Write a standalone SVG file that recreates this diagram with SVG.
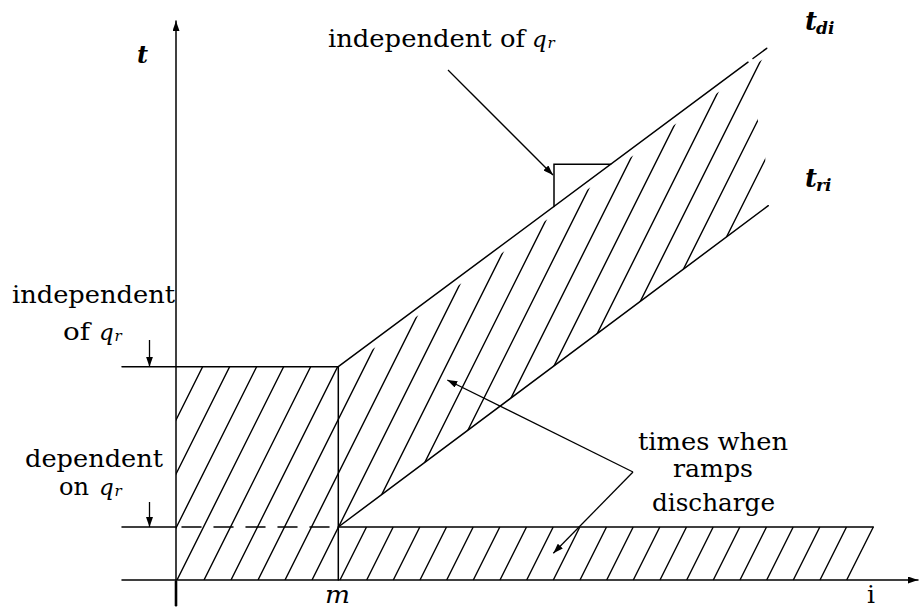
<svg xmlns="http://www.w3.org/2000/svg" width="919" height="609" viewBox="0 0 919 609">
<style>
.ln{stroke:#000;stroke-width:1.5;fill:none;stroke-linecap:round}
.ht{stroke:#000;stroke-width:1.4;fill:none}
.tx{font-family:"DejaVu Serif","Liberation Serif",serif;font-size:25px;fill:#000}
.mi{font-family:"DejaVu Serif","Liberation Serif",serif;font-style:italic;fill:#000}
.ar{stroke:#000;stroke-width:1.3;fill:none}
</style>
<defs>
<marker id="ah" viewBox="0 0 10 7" refX="10" refY="3.5" markerWidth="10" markerHeight="7" markerUnits="userSpaceOnUse" orient="auto">
<path d="M0,0 L10,3.5 L0,7 z" fill="#000"/>
</marker>
<clipPath id="clipA">
<rect x="176" y="366.7" width="162.3" height="213.3"/>
<polygon points="338.3,374.7 764,58.3 757.5,119 765.2,157.5 768.3,205.7 338.3,527"/>
</clipPath>
</defs>
<rect width="919" height="609" fill="#fff"/>

<g id="axes">
<line class="ln" x1="176" y1="606" x2="176" y2="21" marker-end="url(#ah)"/>
<line x1="176" y1="581" x2="176" y2="606" stroke="#000" stroke-width="2.6"/>
<line class="ln" x1="122" y1="580" x2="918" y2="580" marker-end="url(#ah)"/>
</g>

<g id="rect-region">
<line class="ln" x1="122" y1="366.7" x2="338.3" y2="366.7"/>
<line class="ln" x1="338.3" y1="366.7" x2="338.3" y2="580"/>
<line class="ln" x1="122" y1="527" x2="176" y2="527"/>
<line class="ln" x1="182" y1="527" x2="338.3" y2="527" stroke-dasharray="19 13" stroke-linecap="butt"/>
</g>

<g id="ramp-region">
<line class="ln" x1="338.3" y1="366.7" x2="748" y2="62.2"/>
<line class="ln" x1="753" y1="58.5" x2="766.7" y2="48.3"/>
<line class="ln" x1="338.3" y1="527" x2="768.3" y2="205.7"/>
<polyline class="ln" points="554,206.4 554,164.3 610.6,164.3"/>
</g>

<g id="band-region">
<line class="ln" x1="338.3" y1="527" x2="873.3" y2="527"/>
</g>

<g id="hatch-A" clip-path="url(#clipA)">
<path class="ht" d="M96,580 L366,40 M123,580 L393,40 M150,580 L420,40 M177,580 L447,40 M204,580 L474,40 M231,580 L501,40 M258,580 L528,40 M285,580 L555,40 M312,580 L582,40 M339,580 L609,40 M366,580 L636,40 M393,580 L663,40 M420,580 L690,40 M447,580 L717,40 M474,580 L744,40 M501,580 L771,40 M528,580 L798,40 M555,580 L825,40"/>
</g>

<g id="hatch-B">
<path class="ht" d="M340,580 L366.5,527 M366.7,580 L393.2,527 M393.3,580 L419.8,527 M420,580 L446.5,527 M446.7,580 L473.2,527 M473.3,580 L499.8,527 M500,580 L526.5,527 M526.7,580 L553.2,527 M553.3,580 L579.8,527 M580,580 L606.5,527 M606.7,580 L633.2,527 M633.3,580 L659.8,527 M660,580 L686.5,527 M686.7,580 L713.2,527 M713.3,580 L739.8,527 M740,580 L766.5,527 M766.7,580 L793.2,527 M793.3,580 L819.8,527 M820,580 L846.5,527 M846.7,580 L873.3,527"/>
</g>

<g id="connectors">
<line class="ar" x1="149.5" y1="340" x2="149.5" y2="366.7" marker-end="url(#ah)"/>
<line class="ar" x1="149.5" y1="502" x2="149.5" y2="527" marker-end="url(#ah)"/>
<line class="ar" x1="448" y1="70" x2="553" y2="175" marker-end="url(#ah)"/>
<line class="ar" x1="633" y1="472" x2="447.3" y2="380" marker-end="url(#ah)"/>
<line class="ar" x1="633" y1="472" x2="553.3" y2="553.3" marker-end="url(#ah)"/>
</g>

<g id="label-t">
<text class="mi" x="137" y="63" font-size="24" font-weight="bold">t</text>
</g>
<g id="label-tdi">
<text class="mi" x="805" y="30" font-size="26" font-weight="bold">t</text>
<text class="mi" x="816" y="34" font-size="17" font-weight="bold">di</text>
</g>
<g id="label-tri">
<text class="mi" x="805" y="187" font-size="26" font-weight="bold">t</text>
<text class="mi" x="816" y="191" font-size="17" font-weight="bold">ri</text>
</g>
<g id="label-top-independent">
<text class="tx" x="328" y="47" textLength="197" lengthAdjust="spacingAndGlyphs">independent of</text>
<text class="mi" x="532" y="47" font-size="23">q</text>
<text class="mi" x="547.5" y="48" font-size="15">r</text>
</g>
<g id="label-left-independent">
<text class="tx" x="12" y="303" textLength="163" lengthAdjust="spacingAndGlyphs">independent</text>
<text class="tx" x="63" y="340" textLength="27" lengthAdjust="spacingAndGlyphs">of</text>
<text class="mi" x="99" y="340" font-size="23">q</text>
<text class="mi" x="114.5" y="341" font-size="15">r</text>
</g>
<g id="label-dependent">
<text class="tx" x="25" y="467" textLength="138" lengthAdjust="spacingAndGlyphs">dependent</text>
<text class="tx" x="59" y="495" textLength="30" lengthAdjust="spacingAndGlyphs">on</text>
<text class="mi" x="99" y="495" font-size="23">q</text>
<text class="mi" x="114.5" y="496" font-size="15">r</text>
</g>
<g id="label-times">
<text class="tx" x="638" y="450" font-size="23" textLength="150" lengthAdjust="spacingAndGlyphs">times when</text>
<text class="tx" x="673" y="477" font-size="23" textLength="80" lengthAdjust="spacingAndGlyphs">ramps</text>
<text class="tx" x="652" y="511" font-size="23" textLength="123" lengthAdjust="spacingAndGlyphs">discharge</text>
</g>
<g id="label-m">
<text class="mi" x="325" y="603" font-size="24" textLength="25" lengthAdjust="spacingAndGlyphs">m</text>
</g>
<g id="label-i">
<text class="tx" x="867" y="603" font-size="21">i</text>
</g>
</svg>
